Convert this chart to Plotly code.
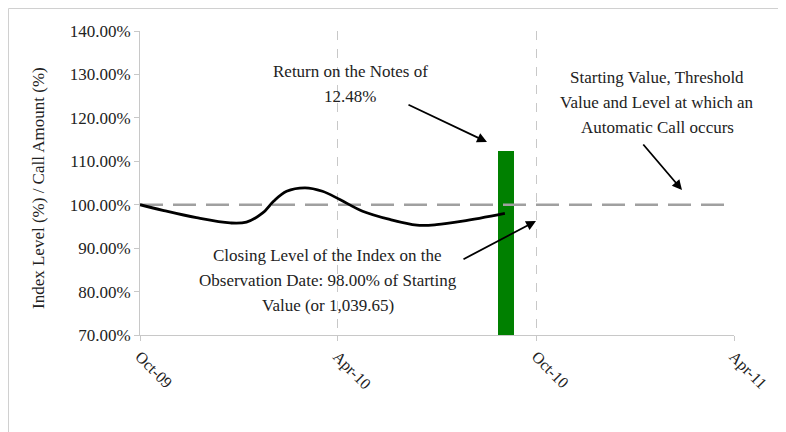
import plotly.graph_objects as go

# ---- data ----
index_dates = ["2009-10-01", "2009-10-22", "2009-11-22", "2009-12-23", "2010-01-07",
               "2010-01-22", "2010-02-01", "2010-02-13", "2010-03-02", "2010-03-18",
               "2010-04-03", "2010-04-24", "2010-05-19", "2010-06-13", "2010-07-01",
               "2010-07-25", "2010-09-02"]
index_level = [100.0, 98.7, 97.0, 95.8, 96.0, 98.1, 100.8, 103.1, 103.9, 103.1,
               101.2, 98.5, 96.6, 95.3, 95.4, 96.2, 98.0]

threshold_dates = ["2009-10-01", "2011-04-01"]
threshold_level = [100.0, 100.0]

call_date = ["2010-09-03"]
call_amount = [112.48]

tick_dates = ["2009-10-01", "2010-04-01", "2010-10-01", "2011-04-01"]
tick_labels = ["Oct-09", "Apr-10", "Oct-10", "Apr-11"]

# ---- layout geometry (figure pixels; page adds an 8px body margin) ----
OFF = 8
W, H = 786, 432
L, T = 140 - OFF, 31 - OFF
RIGHT, BOTTOM = 734 - OFF, 335 - OFF
R, B = W - RIGHT, H - BOTTOM
PW, PH = RIGHT - L, BOTTOM - T

def px(x):  # screenshot x -> paper
    return (x - OFF - L) / PW

def py(y):  # screenshot y -> paper
    return (BOTTOM - (y - OFF)) / PH

FONT = "Liberation Serif"
TXT = "#222222"

fig = go.Figure()
fig.add_trace(go.Bar(x=call_date, y=call_amount, width=15 * 86400000,
                     marker=dict(color="#008000", line=dict(width=0)),
                     showlegend=False, hoverinfo="skip"))
fig.add_trace(go.Scatter(x=threshold_dates, y=threshold_level, mode="lines",
                         line=dict(color="#a0a0a0", width=2.5, dash="23px,10px"),
                         showlegend=False))
fig.add_trace(go.Scatter(x=index_dates, y=index_level, mode="lines",
                         line=dict(color="#000000", width=2.8, shape="spline", smoothing=1.0),
                         showlegend=False))

texts = [
    ("Return on the Notes of", 350, 72),
    ("12.48%", 350, 97),
    ("Starting Value, Threshold", 657, 78),
    ("Value and Level at which an", 657, 103),
    ("Automatic Call occurs", 657, 128),
    ("Closing Level of the Index on the", 327, 255),
    ("Observation Date: 98.00% of Starting", 328, 280),
    ("Value (or 1,039.65)", 328, 305),
]
annotations = []
for t, x, y in texts:
    annotations.append(dict(text=t, xref="paper", yref="paper", x=px(x), y=py(y),
                            xanchor="center", yanchor="middle", showarrow=False,
                            font=dict(family=FONT, size=17, color=TXT)))

arrows = [
    ((407, 104), (487, 142)),
    ((642, 143), (682, 190)),
    ((462, 260), (536, 221)),
]
for (tx, ty), (hx, hy) in arrows:
    annotations.append(dict(text="", xref="paper", yref="paper", x=px(hx), y=py(hy),
                            ax=tx - hx, ay=ty - hy, axref="pixel", ayref="pixel",
                            showarrow=True, arrowhead=2, arrowsize=1.1, arrowwidth=1.8,
                            arrowcolor="#000000"))

# y-axis title
annotations.append(dict(text="Index Level (%) / Call Amount (%)", xref="paper", yref="paper",
                        x=px(38), y=py(188), textangle=-90, showarrow=False,
                        xanchor="center", yanchor="middle",
                        font=dict(family=FONT, size=17, color=TXT)))

fig.update_layout(
    width=W, height=H,
    margin=dict(l=L, r=R, t=T, b=B),
    paper_bgcolor="white", plot_bgcolor="white",
    font=dict(family=FONT, size=17, color=TXT),
    annotations=annotations,
    shapes=[dict(type="rect", xref="paper", yref="paper",
                 x0=px(8.5), y0=py(460), x1=px(820), y1=py(8.5),
                 line=dict(color="#d0d0d0", width=1), fillcolor="rgba(0,0,0,0)",
                 layer="below")],
    bargap=0,
)
fig.update_xaxes(type="date", range=["2009-10-01", "2011-04-01"],
                 tickmode="array", tickvals=tick_dates, ticktext=tick_labels,
                 tickangle=45, showgrid=True, gridcolor="#c8c8c8", gridwidth=1,
                 griddash="dash", showline=True, linecolor="#c8c8c8", linewidth=1,
                 ticks="outside", ticklen=5, tickcolor="#c8c8c8",
                 tickfont=dict(family=FONT, size=16, color=TXT), zeroline=False)
fig.update_yaxes(range=[70, 140], dtick=10, tickformat=".2f", ticksuffix="%",
                 showgrid=False, showline=True, linecolor="#c8c8c8", linewidth=1,
                 ticks="outside", ticklen=5, tickcolor="#c8c8c8",
                 tickfont=dict(family=FONT, size=17, color=TXT), zeroline=False)

fig.write_html("out.html")
